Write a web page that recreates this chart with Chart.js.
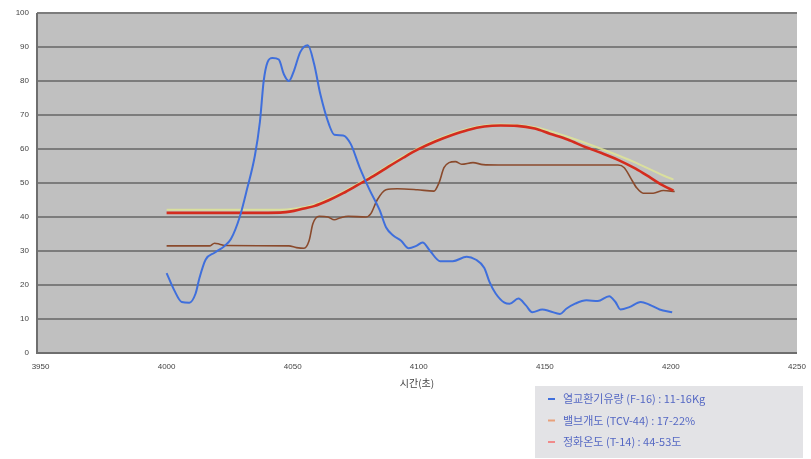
<!DOCTYPE html>
<html>
<head>
<meta charset="utf-8">
<script src="https://cdn.jsdelivr.net/npm/chart.js@4/dist/chart.umd.min.js"></script>
<style>
  html, body { margin: 0; padding: 0; background: #ffffff; }
  #wrap { width: 811px; height: 459px; position: relative; }
</style>
</head>
<body>
<div id="wrap"><canvas id="c" width="811" height="459"></canvas></div>
<script>
// Time axis ticks (seconds)
const xTicks = [3950, 4000, 4050, 4100, 4150, 4200, 4250];
const yTicks = [0, 10, 20, 30, 40, 50, 60, 70, 80, 90, 100];

// 열교환기유량 (F-16)
const flowTime = [4000, 4003, 4006, 4009, 4011.5, 4013, 4015.5, 4019, 4023, 4025.5, 4029, 4032, 4035, 4037, 4038.5, 4040, 4042, 4044.5, 4046.5, 4048.5, 4050.5, 4053, 4056, 4058.5, 4061, 4064.5, 4066.5, 4070, 4073, 4076.5, 4080.5, 4084.5, 4087, 4090, 4093, 4096, 4099, 4101.5, 4104.5, 4108.5, 4113.5, 4119, 4122.5, 4126, 4128, 4130.5, 4134, 4136, 4139.5, 4142.5, 4145, 4149, 4152, 4156, 4158.5, 4162, 4166.5, 4171, 4175.5, 4178, 4180, 4183.5, 4188, 4191.5, 4195.5, 4200.5];
const flowValue = [23.5, 18.5, 15, 14.8, 17.5, 22, 27.5, 29.5, 31.5, 33.5, 40, 48.5, 58, 68, 80, 85.5, 86.8, 86.3, 82, 80, 83, 88.5, 90.5, 85, 76, 67, 64.2, 64, 61.5, 54.7, 48, 42, 37, 34.5, 33, 30.8, 31.5, 32.5, 30, 27, 27, 28.3, 27.5, 25, 21, 17.5, 14.8, 14.5, 16, 14, 12, 12.8, 12.3, 11.5, 13, 14.5, 15.5, 15.3, 16.7, 15, 12.8, 13.5, 15, 14.2, 12.8, 12];

// 밸브개도 (TCV-44)
const valveTime = [4000, 4017, 4019, 4021, 4023, 4048.5, 4051.5, 4054.5, 4056.5, 4058, 4060.5, 4064, 4066.5, 4069, 4072, 4079, 4081, 4083.5, 4087, 4091.5, 4099.5, 4106, 4108, 4110, 4112, 4114.5, 4117, 4121.5, 4125.5, 4131.5, 4179, 4181.5, 4184, 4186.5, 4189, 4193, 4197, 4201.5];
const valveValue = [31.5, 31.5, 32.3, 32, 31.6, 31.5, 31, 30.8, 33, 38, 40.2, 40, 39.2, 39.8, 40.2, 40, 41, 45, 48, 48.3, 48, 47.6, 50, 54.5, 56, 56.3, 55.5, 56, 55.4, 55.3, 55.3, 54.5, 51.5, 48.5, 47, 47, 47.8, 47.5];

// 정화온도 (T-14)
const tempTime = [4000, 4020, 4045, 4050.5, 4054.5, 4058.5, 4064.5, 4070, 4076, 4082, 4088, 4094, 4099.5, 4106.5, 4113.5, 4119.5, 4126, 4132.5, 4139, 4146, 4152, 4159, 4166, 4172.5, 4179, 4186, 4192, 4197, 4201];
const tempValue = [41.2, 41.2, 41.3, 41.8, 42.5, 43.2, 45, 47, 49.5, 52, 54.8, 57.5, 59.8, 62.2, 64.2, 65.6, 66.6, 66.9, 66.8, 66, 64.5, 62.8, 60.6, 58.8, 56.8, 54.2, 51.5, 49.2, 47.8];

// Reference temperature trace (unlabelled)
const refTime = [4000, 4020, 4045, 4050.5, 4058.5, 4070, 4082, 4094, 4106.5, 4119.5, 4132.5, 4146, 4159, 4172.5, 4186, 4197, 4201];
const refValue = [42.1, 42.1, 42.1, 42.4, 43.6, 47.4, 52.4, 57.9, 62.6, 66.0, 67.2, 66.4, 63.6, 60, 56, 52.2, 51];

const legendLabels = ['열교환기유량 (F-16) : 11-16Kg', '밸브개도 (TCV-44) : 17-22%', '정화온도 (T-14) : 44-53도'];

function pts(xs, ys) { return xs.map((x, i) => ({ x: x, y: ys[i] })); }

const plotBg = {
  id: 'plotBg',
  beforeDraw(chart) {
    const { ctx, chartArea: a } = chart;
    ctx.save();
    ctx.fillStyle = '#c0c0c0';
    ctx.fillRect(a.left, a.top, a.right - a.left, a.bottom - a.top);
    ctx.restore();
  },
  afterDatasetsDraw(chart) {
    const { ctx, chartArea: a } = chart;
    ctx.save();
    ctx.strokeStyle = '#6e6e6e';
    ctx.lineWidth = 2;
    ctx.beginPath();
    ctx.moveTo(a.left, a.top);
    ctx.lineTo(a.left, a.bottom);
    ctx.lineTo(a.right, a.bottom);
    ctx.stroke();
    ctx.restore();
  }
};

const boxLegend = {
  id: 'boxLegend',
  afterDraw(chart) {
    const ctx = chart.ctx;
    const x0 = 535, y0 = 386, w = 268, h = 72;
    ctx.save();
    ctx.fillStyle = '#e3e3e6';
    ctx.fillRect(x0, y0, w, h);
    ctx.font = '11px "Noto Sans CJK KR", sans-serif';
    ctx.textBaseline = 'middle';
    const shown = chart.data.datasets.filter(d => d.legendOrder !== undefined)
      .sort((a, b) => a.legendOrder - b.legendOrder);
    shown.forEach((d, i) => {
      const y = y0 + 13 + i * 21.5;
      ctx.strokeStyle = d.legendColor;
      ctx.lineWidth = 2;
      ctx.beginPath();
      ctx.moveTo(x0 + 13, y);
      ctx.lineTo(x0 + 20, y);
      ctx.stroke();
      ctx.fillStyle = '#5568c4';
      ctx.fillText(d.label, x0 + 28, y);
    });
    ctx.restore();
  }
};

// Datasets listed top-most first (Chart.js paints the first dataset last)
new Chart(document.getElementById('c'), {
  type: 'line',
  data: {
    datasets: [
      { label: legendLabels[0], data: pts(flowTime, flowValue), borderColor: '#3f6fdc', legendColor: '#3f6fdc', borderWidth: 2, pointRadius: 0, cubicInterpolationMode: 'monotone', legendOrder: 0 },
      { label: legendLabels[2], data: pts(tempTime, tempValue), borderColor: '#d42c1e', legendColor: '#f08a8a', borderWidth: 2.6, pointRadius: 0, cubicInterpolationMode: 'monotone', legendOrder: 2 },
      { label: legendLabels[1], data: pts(valveTime, valveValue), borderColor: '#8a4a2c', legendColor: '#e8a07a', borderWidth: 1.6, pointRadius: 0, cubicInterpolationMode: 'monotone', legendOrder: 1 },
      { label: 'ref', data: pts(refTime, refValue), borderColor: 'rgba(222,228,150,0.85)', borderWidth: 2, pointRadius: 0, cubicInterpolationMode: 'monotone' }
    ]
  },
  options: {
    responsive: false,
    animation: false,
    events: [],
    layout: { padding: { left: 0, top: 13, right: 14, bottom: 70 } },
    plugins: { legend: { display: false }, tooltip: { enabled: false } },
    scales: {
      x: {
        type: 'linear',
        min: 3948.6,
        max: xTicks[xTicks.length - 1],
        afterBuildTicks(s) { s.ticks = xTicks.map(v => ({ value: v })); },
        afterFit(s) { s.height = 36; s.paddingLeft = 0; s.paddingRight = 0; },
        grid: { display: false, drawTicks: false },
        border: { display: false },
        ticks: { padding: 9, color: '#444', font: { size: 8, family: 'Liberation Sans' }, maxRotation: 0, autoSkip: false, callback: v => String(v) },
        title: { display: true, text: '시간(초)', color: '#444', padding: 0, font: { size: 10, family: '"Noto Sans CJK KR"' } }
      },
      y: {
        min: 0,
        max: 100,
        afterBuildTicks(s) { s.ticks = yTicks.map(v => ({ value: v })); },
        afterFit(s) { s.width = 37; },
        grid: { color: '#7c7c7c', lineWidth: 2, drawTicks: false },
        border: { display: false },
        ticks: { padding: 8, color: '#444', font: { size: 8, family: 'Liberation Sans' } }
      }
    }
  },
  plugins: [plotBg, boxLegend]
});
</script>
</body>
</html>
